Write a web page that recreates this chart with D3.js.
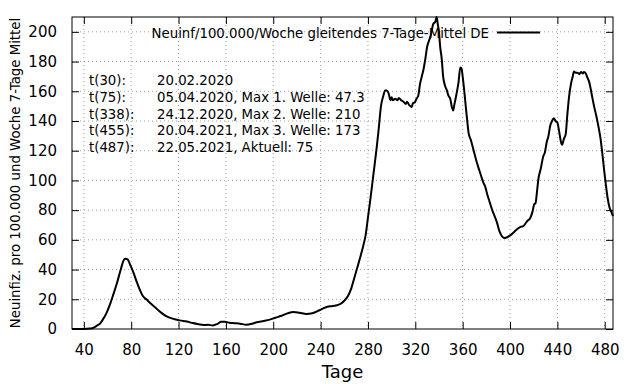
<!DOCTYPE html>
<html>
<head>
<meta charset="utf-8">
<script src="https://cdn.jsdelivr.net/npm/d3@7"></script>
<style>
  body { margin: 0; background: #fff; }
  svg { display: block; font-family: "DejaVu Sans", sans-serif; }
</style>
</head>
<body>
<svg id="chart"></svg>
<script>
const WIDTH = 640;
const HEIGHT = 384;
const MARGIN = { top: 17, right: 27, bottom: 55, left: 72 };

// day number since start, 7-day rolling incidence per 100.000
const DAYS = [30, 40, 45, 48, 51, 54, 56, 59, 62, 65, 68, 71, 73.5, 75, 77, 79, 82, 85, 87.5, 90,
  93, 97, 101, 105, 110, 115, 121, 127, 132, 137, 141, 145, 149, 153, 156, 159, 163, 167, 172, 177,
  182, 186, 192, 197, 202, 207, 212, 217, 222, 228, 233, 239, 244, 248, 253, 257, 260, 263, 266, 268,
  270.5, 273, 276, 278, 280, 282, 284, 286, 287.5, 289, 291, 293, 294.5, 296, 297.5, 299, 300, 301, 303, 305,
  306, 308, 310, 312, 313, 315, 317, 318, 319.5, 321, 322.5, 324, 325.5, 327, 328.5, 330, 332, 333.5, 335, 337,
  338, 339, 340, 341, 342.3, 343.5, 345, 346.5, 348, 349.5, 351, 352, 353, 355, 356.5, 358, 359, 360, 361, 362,
  364, 365, 367, 369, 371, 372, 374, 376, 377.5, 379, 381, 383, 385, 387, 389, 391, 393, 395, 397, 399,
  401, 403, 405, 407, 409, 411.3, 413, 415, 417, 419, 420.5, 421.5, 423, 424, 426, 428, 429.5, 431, 432.5, 434,
  435.5, 437, 438.5, 440, 441.5, 443, 444, 445.5, 447, 448.5, 450, 451.5, 453, 454, 455.5, 457, 458.5, 460, 461.5, 462.5,
  464, 465.5, 467, 469, 471, 473, 475, 476.5, 478, 479.5, 481, 482.5, 484, 485.5, 487];

const VALUES = [0, 0, 0.3, 0.8, 2.2, 4, 6.3, 10.5, 16.4, 23.5, 31, 39.5, 46, 47.3, 46.8, 43.5, 37.8, 31, 26, 22,
  19.8, 16.8, 14, 11.2, 8.5, 7, 5.8, 5, 4, 3.2, 2.7, 2.8, 2.4, 3.5, 4.8, 4.8, 4.2, 3.9, 3.6, 2.9,
  3.5, 4.5, 5.4, 6.3, 7.6, 8.9, 10.5, 11.5, 11, 10.1, 10.6, 12.6, 14.5, 15.3, 15.8, 17, 19, 22, 27.5, 33,
  40, 47, 55.8, 63, 75, 87, 100, 113, 123, 134, 150, 157, 160.5, 160.5, 158.5, 154, 156, 154, 155, 154,
  155.5, 154, 153, 151.5, 153, 150.5, 149.5, 152, 152.5, 155, 157, 165, 170, 175, 182, 190, 195, 199, 205, 207,
  210, 205, 200, 190, 182, 170, 164, 161, 157, 155, 149, 147, 151, 159, 166, 176, 175.5, 170, 163, 155,
  139, 132, 127, 121, 115, 112, 107, 102, 98.6, 96, 90, 85, 80, 76, 71.6, 66, 62.6, 61.3, 61.6, 62.5,
  63.5, 65, 66.5, 67.8, 68.8, 69.3, 71, 73, 74.5, 79, 84, 84.5, 94, 101, 108, 116, 119, 125.7, 130, 137,
  140, 141.9, 140, 139, 133, 126, 124, 128, 131, 145, 157, 165, 170, 173.4, 172.5, 172.5, 171.5, 173, 172, 173,
  172, 169, 166, 158, 150, 143, 135, 128, 118, 107, 97, 88, 82, 79, 76];

const X_TICKS = [40, 80, 120, 160, 200, 240, 280, 320, 360, 400, 440, 480];
const Y_TICKS = [0, 20, 40, 60, 80, 100, 120, 140, 160, 180, 200];

const NOTE_KEYS = ["t(30):", "t(75):", "t(338):", "t(455):", "t(487):"];
const NOTE_TEXTS = ["20.02.2020", "05.04.2020, Max 1. Welle: 47.3", "24.12.2020, Max 2. Welle: 210",
  "20.04.2021, Max 3. Welle: 173", "22.05.2021, Aktuell: 75"];

const LEGEND_LABEL = "Neuinf/100.000/Woche gleitendes 7-Tage-Mittel DE";
const X_LABEL = "Tage";
const Y_LABEL = "Neuinfiz. pro 100.000 und Woche 7-Tage Mittel";

const innerW = WIDTH - MARGIN.left - MARGIN.right;
const innerH = HEIGHT - MARGIN.top - MARGIN.bottom;

const svg = d3.select('#chart')
              .attr('width', WIDTH)
              .attr('height', HEIGHT);

const g = svg.append('g')
             .attr('transform', `translate(${MARGIN.left},${MARGIN.top})`);

const x = d3.scaleLinear().domain([30, 487]).range([0, innerW]);
const y = d3.scaleLinear().domain([0, 210]).range([innerH, 0]);

// dotted grid
g.append('g').selectAll('line').data(X_TICKS).enter().append('line')
  .attr('x1', d => x(d)).attr('x2', d => x(d))
  .attr('y1', 0).attr('y2', innerH)
  .attr('stroke', '#a0a0a0').attr('stroke-width', 1)
  .attr('stroke-dasharray', '1,3');

g.append('g').selectAll('line').data(Y_TICKS.filter(d => d > 0)).enter().append('line')
  .attr('x1', 0).attr('x2', innerW)
  .attr('y1', d => y(d)).attr('y2', d => y(d))
  .attr('stroke', '#a0a0a0').attr('stroke-width', 1)
  .attr('stroke-dasharray', '1,3');

// axes with inward ticks, mirrored
const TICK = 7;
const xAxisB = g.append('g').attr('transform', `translate(0,${innerH})`)
  .call(d3.axisBottom(x).tickValues(X_TICKS).tickSizeInner(-TICK).tickSizeOuter(0).tickPadding(15));
const xAxisT = g.append('g')
  .call(d3.axisTop(x).tickValues(X_TICKS).tickSizeInner(-TICK).tickSizeOuter(0).tickFormat(''));
const yAxisL = g.append('g')
  .call(d3.axisLeft(y).tickValues(Y_TICKS).tickSizeInner(-TICK).tickSizeOuter(0).tickPadding(15));
const yAxisR = g.append('g').attr('transform', `translate(${innerW},0)`)
  .call(d3.axisRight(y).tickValues(Y_TICKS).tickSizeInner(-TICK).tickSizeOuter(0).tickFormat(''));

[xAxisB, xAxisT, yAxisL, yAxisR].forEach(a => {
  a.select('.domain').remove();
  a.selectAll('line').attr('stroke', '#000');
  a.selectAll('text').attr('fill', '#000')
   .style('font-size', '15px')
   .style('font-family', '"DejaVu Sans", sans-serif');
});

g.append('rect')
  .attr('x', 0).attr('y', 0)
  .attr('width', innerW).attr('height', innerH)
  .attr('fill', 'none').attr('stroke', '#000').attr('stroke-width', 1);

// curve
const series = DAYS.map((d, i) => ({ day: d, value: VALUES[i] }));
const line = d3.line()
  .x(d => x(d.day))
  .y(d => y(d.value))
  .curve(d3.curveMonotoneX);

g.append('path')
  .datum(series)
  .attr('d', line)
  .attr('fill', 'none')
  .attr('stroke', '#000')
  .attr('stroke-width', 2)
  .attr('stroke-linejoin', 'round');

// legend
g.append('text')
  .attr('x', 489 - MARGIN.left).attr('y', 37.5 - MARGIN.top)
  .attr('text-anchor', 'end')
  .style('font-size', '13.3px')
  .text(LEGEND_LABEL);

g.append('line')
  .attr('x1', 497 - MARGIN.left).attr('x2', 540 - MARGIN.left)
  .attr('y1', 32.5 - MARGIN.top).attr('y2', 32.5 - MARGIN.top)
  .attr('stroke', '#000').attr('stroke-width', 2);

// notes
const notes = g.append('g').style('font-size', '13.3px');
NOTE_KEYS.forEach((k, i) => {
  notes.append('text').attr('x', 89 - MARGIN.left).attr('y', 85 + i * 16.8 - MARGIN.top).text(k);
  notes.append('text').attr('x', 157 - MARGIN.left).attr('y', 85 + i * 16.8 - MARGIN.top).text(NOTE_TEXTS[i]);
});

// axis labels
svg.append('text')
  .attr('x', MARGIN.left + innerW / 2).attr('y', 378)
  .attr('text-anchor', 'middle')
  .style('font-size', '18px')
  .text(X_LABEL);

svg.append('text')
  .attr('transform', `translate(20,${MARGIN.top + innerH / 2}) rotate(-90)`)
  .attr('text-anchor', 'middle')
  .style('font-size', '13.3px')
  .text(Y_LABEL);
</script>
</body>
</html>
